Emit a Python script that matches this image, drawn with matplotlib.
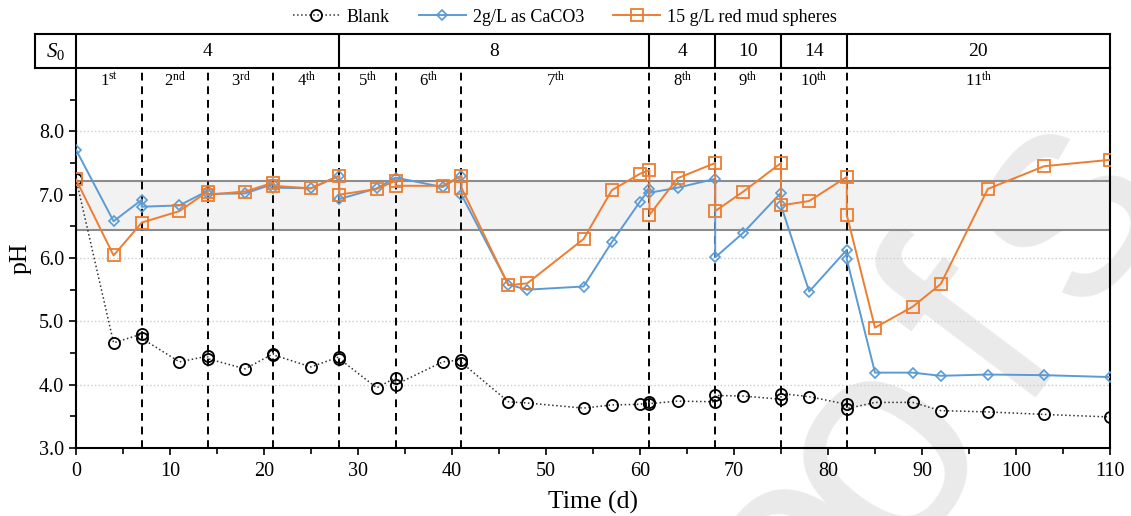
import matplotlib
matplotlib.use("Agg")
import matplotlib.pyplot as plt
from matplotlib.ticker import MultipleLocator, FormatStrFormatter

plt.rcParams['font.family'] = ['Liberation Serif', 'DejaVu Serif']
plt.rcParams['mathtext.fontset'] = 'custom'
plt.rcParams['mathtext.rm'] = 'Liberation Serif'
plt.rcParams['mathtext.it'] = 'Liberation Serif:italic'

# data (day, pH); repeated days = end / start of a cycle
blank_t = [0, 4, 7, 7, 11, 14, 14, 18, 21, 21, 25, 28, 28, 32, 34, 34, 39, 41, 41,
           46, 48, 54, 57, 60, 61, 61, 64, 68, 68, 71, 75, 75, 78, 82, 82,
           85, 89, 92, 97, 103, 110]
blank_ph = [7.25, 4.66, 4.80, 4.73, 4.36, 4.45, 4.41, 4.25, 4.49, 4.47, 4.28, 4.44, 4.41,
            3.95, 4.11, 4.00, 4.36, 4.39, 4.35, 3.73, 3.71, 3.63, 3.68, 3.69, 3.72, 3.70,
            3.74, 3.73, 3.83, 3.82, 3.77, 3.86, 3.81, 3.69, 3.62,
            3.72, 3.72, 3.59, 3.57, 3.53, 3.49]

caco3_t = [0, 4, 7, 7, 11, 14, 14, 18, 21, 21, 25, 28, 28, 32, 34, 39, 41, 41,
           46, 48, 54, 57, 60, 61, 61, 64, 68, 68, 71, 75, 75, 78, 82, 82,
           85, 89, 92, 97, 103, 110]
caco3_ph = [7.71, 6.58, 6.92, 6.81, 6.83, 7.06, 7.01, 7.02, 7.17, 7.11, 7.10, 7.30, 6.93,
            7.10, 7.27, 7.12, 7.30, 7.00, 5.58, 5.50, 5.55, 6.25, 6.89, 7.09, 7.03,
            7.11, 7.25, 6.01, 6.40, 7.03, 6.83, 5.47, 6.13, 5.98,
            4.19, 4.19, 4.14, 4.16, 4.15, 4.12]

rm_t = [0, 4, 7, 11, 14, 14, 18, 21, 21, 25, 28, 28, 32, 34, 34, 39, 41, 41,
        46, 48, 54, 57, 60, 61, 61, 64, 68, 68, 71, 75, 75, 78, 82, 82,
        85, 89, 92, 97, 103, 110]
rm_ph = [7.24, 6.04, 6.56, 6.74, 7.05, 7.00, 7.05, 7.19, 7.14, 7.10, 7.30, 7.00,
         7.09, 7.22, 7.14, 7.14, 7.30, 7.11, 5.57, 5.60, 6.30, 7.07, 7.33, 7.39, 6.68,
         7.26, 7.50, 6.74, 7.05, 7.50, 6.83, 6.90, 7.28, 6.68,
         4.90, 5.23, 5.59, 7.09, 7.45, 7.55]

cycle_ends = [7, 14, 21, 28, 34, 41, 61, 68, 75, 82]
cycle_labels = ['1$^{\\mathrm{st}}$', '2$^{\\mathrm{nd}}$', '3$^{\\mathrm{rd}}$'] + \
    ['%d$^{\\mathrm{th}}$' % i for i in range(4, 12)]
s0_edges = [0, 28, 61, 68, 75, 82, 110]
s0_values = ['4', '8', '4', '10', '14', '20']
band = (6.45, 7.22)

W, H = 1131, 516
fig = plt.figure(figsize=(W / 100, H / 100), dpi=100)

# watermark ("Proofs", only the tail is inside the picture), drawn letter by letter
wm_letters = ['o', 'o', 'f', 's']
wm_px = [(795, 560), (882, 452), (982, 335), (1066, 208)]
for ch, (px, py) in zip(wm_letters, wm_px):
    fig.text(px / W, 1 - py / H, ch, rotation=53, fontsize=215, color='#eaeaea',
             family='Liberation Sans', ha='center', va='center', zorder=-5)

x0, x1 = 76, 1110
ytop, ybot = 68, 448
ax = fig.add_axes([x0 / W, 1 - ybot / H, (x1 - x0) / W, (ybot - ytop) / H])
ax.patch.set_alpha(0)

ax.axhspan(*band, facecolor='#f2f2f2', edgecolor='#8c8c8c', lw=1.5, zorder=1)
for y in [4, 5, 6, 7, 8]:
    ax.axhline(y, color='#cccccc', ls=':', lw=1, zorder=0.5)
for t in cycle_ends:
    ax.axvline(t, color='black', ls=(0, (4, 3)), lw=1.4, zorder=2)

starts = [0] + cycle_ends
ends = cycle_ends + [110]
for a, b, lab in zip(starts, ends, cycle_labels):
    ax.text((a + b) / 2, 8.8, lab, ha='center', va='center', fontsize=12)

ax.plot(blank_t, blank_ph, ls=':', color='#333333', lw=1.1, marker='o', ms=8,
        mfc='none', mec='black', mew=1.3, label='Blank', zorder=3)
ax.plot(caco3_t, caco3_ph, color='#5b9bd5', lw=1.4, marker='D', ms=5.5,
        mfc='none', mec='#5b9bd5', mew=1.2, label='2g/L as CaCO3', zorder=4)
ax.plot(rm_t, rm_ph, color='#ed7d31', lw=1.4, marker='s', ms=8.5,
        mfc='none', mec='#ed7d31', mew=1.3, label='15 g/L red mud spheres', zorder=5)

ax.set_xlim(0, 110)
ax.set_ylim(3, 9)
ax.set_yticks([3, 4, 5, 6, 7, 8])
ax.yaxis.set_minor_locator(MultipleLocator(0.5))
ax.yaxis.set_major_formatter(FormatStrFormatter('%.1f'))
ax.xaxis.set_major_locator(MultipleLocator(10))
ax.xaxis.set_minor_locator(MultipleLocator(5))
ax.tick_params(which='both', direction='out', labelsize=14.5, width=1.2)
ax.tick_params(which='major', length=5)
ax.tick_params(which='minor', length=4)
ax.tick_params(axis='x', pad=5)
for s in ax.spines.values():
    s.set_linewidth(1.5)
ax.spines['top'].set_visible(False)
ax.set_xlabel('Time (d)', fontsize=18.5, labelpad=7)
ax.set_ylabel('pH', fontsize=18.5, labelpad=5)

# S0 header row
tl = 35
tab = fig.add_axes([tl / W, 1 - ytop / H, (x1 - tl) / W, 34 / H])
tab.set_xlim((tl - x0) / ((x1 - x0) / 110), 110)
tab.set_ylim(0, 1)
tab.set_xticks([])
tab.set_yticks([])
for s in tab.spines.values():
    s.set_linewidth(1.5)
for e in s0_edges[:-1]:
    tab.axvline(e, color='black', lw=1.5)
for a, b, v in zip(s0_edges[:-1], s0_edges[1:], s0_values):
    tab.text((a + b) / 2, 0.5, v, ha='center', va='center', fontsize=14)
tab.text((tl - x0) / ((x1 - x0) / 110) / 2, 0.5, '$\\mathit{S_0}$', ha='center',
         va='center', fontsize=15)

fig.legend(loc='center', bbox_to_anchor=(565 / W, 1 - 17 / H), ncol=3, frameon=False,
           fontsize=13, handlelength=2.6, columnspacing=1.6, handletextpad=0.4)

fig.savefig('out.png', dpi=100)
